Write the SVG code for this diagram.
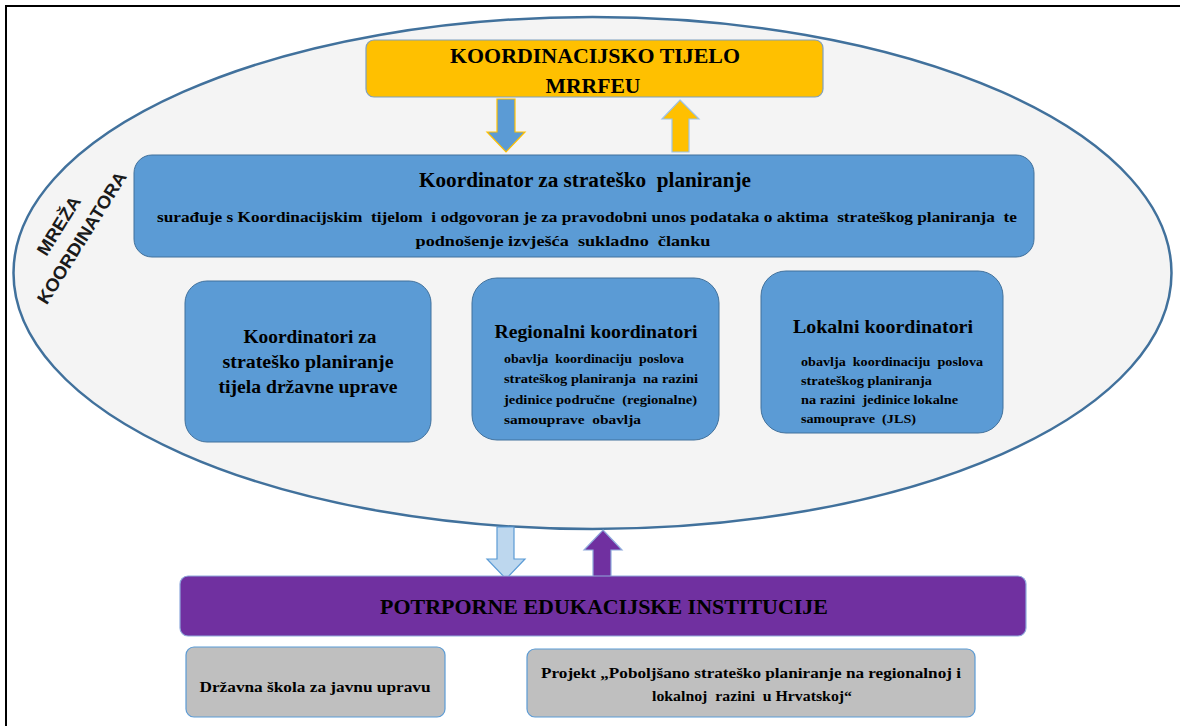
<svg xmlns="http://www.w3.org/2000/svg" width="1180" height="726" viewBox="0 0 1180 726">
<style>
.t{font-family:"Liberation Serif","Times New Roman",serif;font-weight:bold;fill:#000;white-space:pre}
.c{text-anchor:middle}
.blue{fill:#5b9bd5;stroke:#41719c;stroke-width:1}
.net{font-family:"Liberation Sans",Arial,sans-serif;font-size:18px;font-weight:bold;fill:#1a1a1a;text-anchor:middle}
</style>
<rect x="0" y="0" width="1180" height="726" fill="#ffffff"/>
<rect x="6" y="6" width="1200" height="760" fill="none" stroke="#000" stroke-width="2"/>
<g id="network">
<ellipse cx="592.5" cy="273" rx="579" ry="256" fill="#f4f4f4" stroke="#41719c" stroke-width="2.5"/>
<g transform="translate(71,231) rotate(-58)">
<text class="net" x="-2" y="-7" textLength="66" lengthAdjust="spacingAndGlyphs">MREŽA</text>
<text class="net" x="0" y="19" textLength="152" lengthAdjust="spacingAndGlyphs">KOORDINATORA</text>
</g>
</g>
<g id="koordinacijsko-tijelo">
<rect x="366" y="40" width="457" height="57" rx="8" fill="#ffc000" stroke="#7f9fbf" stroke-width="1.2"/>
<text class="t c" x="595" y="63" font-size="22" textLength="290" lengthAdjust="spacingAndGlyphs">KOORDINACIJSKO TIJELO</text>
<text class="t c" x="593" y="93" font-size="22" textLength="95" lengthAdjust="spacingAndGlyphs">MRRFEU</text>
</g>
<g id="connectors">
<polygon points="497,99 515,99 515,132 525,132 506,152 487,132 497,132" fill="#5b9bd5" stroke="#ffc000" stroke-width="1.2"/>
<polygon points="680,100 699,119 689,119 689,152 672,152 672,119 662,119" fill="#ffc000" stroke="#9dc3e6" stroke-width="1.2"/>
<polygon points="497,527 514,527 514,559 525,559 506,579 487,559 497,559" fill="#bdd7ee" stroke="#5b9bd5" stroke-width="1.2"/>
<polygon points="603,530 622,550 611,550 611,582 593,582 593,550 584,550" fill="#7030a0" stroke="#8faadc" stroke-width="1.2"/>
</g>
<g id="koordinator">
<rect class="blue" x="134" y="155" width="900" height="102" rx="18"/>
<text class="t c" x="585" y="187" font-size="20" textLength="332" lengthAdjust="spacingAndGlyphs">Koordinator za strateško  planiranje</text>
<text class="t c" x="587" y="222" font-size="15" textLength="860" lengthAdjust="spacingAndGlyphs">surađuje s Koordinacijskim  tijelom  i odgovoran je za pravodobni unos podataka o aktima  strateškog planiranja  te</text>
<text class="t c" x="563" y="246" font-size="15" textLength="295" lengthAdjust="spacingAndGlyphs">podnošenje izvješća  sukladno  članku</text>
</g>
<g id="koordinatori-duprave">
<rect class="blue" x="185" y="281" width="246" height="161" rx="22"/>
<text class="t c" x="310" y="343" font-size="18" textLength="133" lengthAdjust="spacingAndGlyphs">Koordinatori za</text>
<text class="t c" x="308" y="368" font-size="18" textLength="171" lengthAdjust="spacingAndGlyphs">strateško planiranje</text>
<text class="t c" x="308" y="393" font-size="18" textLength="179" lengthAdjust="spacingAndGlyphs">tijela državne uprave</text>
</g>
<g id="regionalni">
<rect class="blue" x="472" y="278" width="247" height="162" rx="25"/>
<text class="t c" x="596" y="338" font-size="18" textLength="203" lengthAdjust="spacingAndGlyphs">Regionalni koordinatori</text>
<text class="t" x="504" y="363" font-size="12.5" textLength="180" lengthAdjust="spacingAndGlyphs">obavlja  koordinaciju  poslova</text>
<text class="t" x="504" y="383" font-size="12.5" textLength="194" lengthAdjust="spacingAndGlyphs">strateškog planiranja  na razini</text>
<text class="t" x="504" y="404" font-size="12.5" textLength="193" lengthAdjust="spacingAndGlyphs">jedinice područne  (regionalne)</text>
<text class="t" x="504" y="424" font-size="12.5" textLength="137" lengthAdjust="spacingAndGlyphs">samouprave  obavlja</text>
</g>
<g id="lokalni">
<rect class="blue" x="761" y="271" width="242" height="162" rx="25"/>
<text class="t c" x="883" y="333" font-size="18" textLength="180" lengthAdjust="spacingAndGlyphs">Lokalni koordinatori</text>
<text class="t" x="801" y="366" font-size="12.5" textLength="182" lengthAdjust="spacingAndGlyphs">obavlja  koordinaciju  poslova</text>
<text class="t" x="801" y="385" font-size="12.5" textLength="131" lengthAdjust="spacingAndGlyphs">strateškog planiranja</text>
<text class="t" x="801" y="404" font-size="12.5" textLength="157" lengthAdjust="spacingAndGlyphs">na razini  jedinice lokalne</text>
<text class="t" x="801" y="423" font-size="12.5" textLength="115" lengthAdjust="spacingAndGlyphs">samouprave  (JLS)</text>
</g>
<g id="potporne">
<rect x="180" y="576" width="846" height="60" rx="8" fill="#7030a0" stroke="#8faadc" stroke-width="1.2"/>
<text class="t c" x="604" y="614" font-size="20" textLength="448" lengthAdjust="spacingAndGlyphs">POTRPORNE EDUKACIJSKE INSTITUCIJE</text>
</g>
<g id="drzavna-skola">
<rect x="186" y="647" width="259" height="70" rx="8" fill="#bfbfbf" stroke="#5b9bd5" stroke-width="1.2"/>
<text class="t c" x="315" y="692" font-size="15" textLength="231" lengthAdjust="spacingAndGlyphs">Državna škola za javnu upravu</text>
</g>
<g id="projekt">
<rect x="527" y="649" width="448" height="68" rx="8" fill="#bfbfbf" stroke="#5b9bd5" stroke-width="1.2"/>
<text class="t c" x="751" y="678" font-size="15" textLength="420" lengthAdjust="spacingAndGlyphs">Projekt „Poboljšano strateško planiranje na regionalnoj i</text>
<text class="t c" x="752" y="701" font-size="15" textLength="200" lengthAdjust="spacingAndGlyphs">lokalnoj  razini  u Hrvatskoj“</text>
</g>
</svg>
